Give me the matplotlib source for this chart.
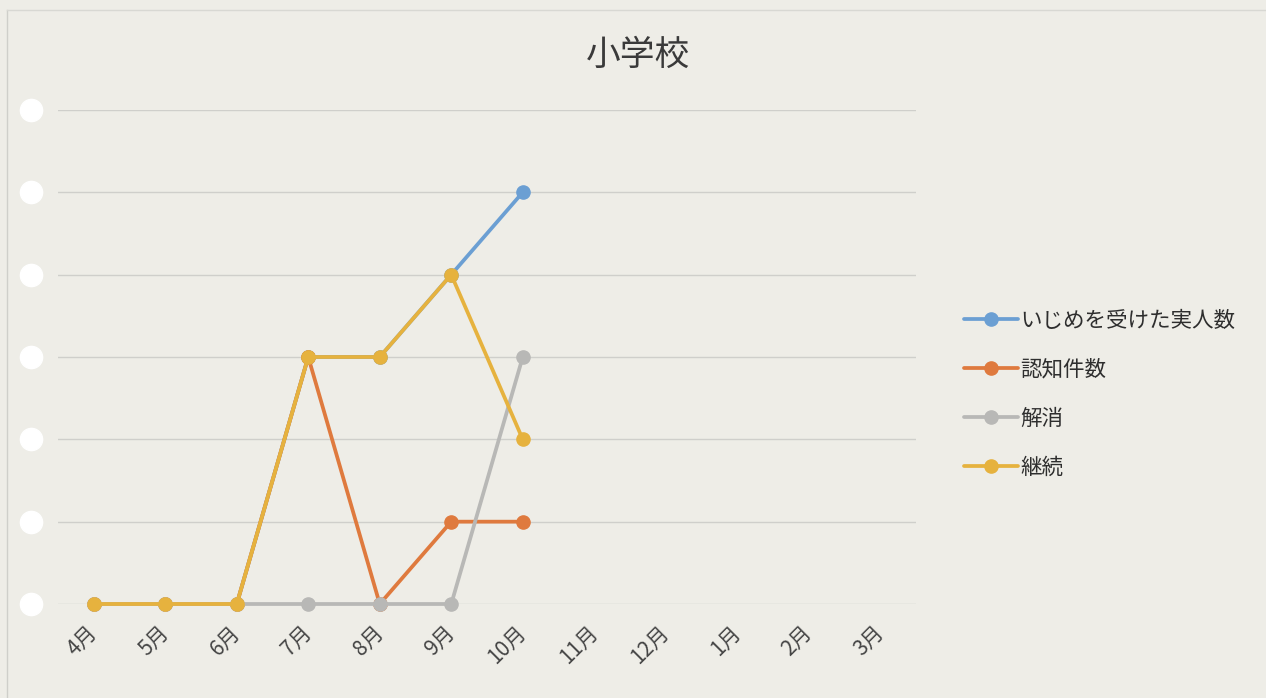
import matplotlib

matplotlib.use("Agg")
import matplotlib.pyplot as plt  # noqa: E402
from matplotlib.lines import Line2D  # noqa: E402
from matplotlib.transforms import blended_transform_factory  # noqa: E402

plt.rcParams["font.family"] = ["Noto Sans CJK JP", "DejaVu Sans"]

# data (counts per month, school year Apr-Mar)
months = ["4月", "5月", "6月", "7月", "8月", "9月", "10月", "11月", "12月", "1月", "2月", "3月"]
victims = [0, 0, 0, 3, 3, 4, 5]      # いじめを受けた実人数
recognized = [0, 0, 0, 3, 0, 1, 1]   # 認知件数
resolved = [0, 0, 0, 0, 0, 0, 3]     # 解消
ongoing = [0, 0, 0, 3, 3, 4, 2]      # 継続
series_names = ["いじめを受けた実人数", "認知件数", "解消", "継続"]
y_ticks = [0, 1, 2, 3, 4, 5, 6]

colors = ["#6b9fd3", "#df7a3e", "#b8b8b6", "#e6b23e"]
bg = "#eeede7"

fig = plt.figure(figsize=(12.66, 6.98), dpi=100, facecolor=bg)
ax = fig.add_axes([58 / 1266, 94 / 698, 858 / 1266, 494 / 698])
ax.set_facecolor(bg)

x = list(range(len(months)))
for vals, name, c in zip([victims, recognized, resolved, ongoing], series_names, colors):
    ax.plot(x[:len(vals)], vals, color=c, lw=2.7, marker="o", ms=9.5,
            label=name, clip_on=False, solid_capstyle="round")

ax.set_xlim(-0.5, len(months) - 0.5)
ax.set_ylim(y_ticks[0], y_ticks[-1])
ax.set_yticks(y_ticks)
ax.set_yticklabels([])
ax.set_xticks(x)
ax.set_xticklabels(months, rotation=45, ha="right", va="center",
                   rotation_mode="anchor", fontsize=15, color="#454545")
ax.tick_params(axis="both", length=0)
ax.tick_params(axis="x", pad=18)
ax.grid(axis="y", color="#cfcfcb", lw=1.0)
ax.set_axisbelow(True)
for s in ax.spines.values():
    s.set_visible(False)

# white blobs covering the value labels on the scan
tr = blended_transform_factory(ax.transAxes, ax.transData)
ax.plot([-0.032] * len(y_ticks), y_ticks, ls="none", marker="o", ms=16,
        color="white", transform=tr, clip_on=False)

fig.text(638 / 1266, 1 - 55 / 698, "小学校", ha="center", va="center",
         fontsize=25, color="#3a3a3a")

ax.legend(loc="center left", bbox_to_anchor=(945 / 1266, 1 - 394 / 698),
          bbox_transform=fig.transFigure, frameon=False, fontsize=15.5,
          handlelength=2.5, handletextpad=0.1, labelspacing=1.25,
          labelcolor="#2e2e2e")

# faint scan edges
fig.add_artist(Line2D([7 / 1266, 7 / 1266], [0, 1 - 10 / 698], color="#cfcfca", lw=1))
fig.add_artist(Line2D([7 / 1266, 1], [1 - 10 / 698, 1 - 10 / 698], color="#d8d8d3", lw=1))

fig.savefig("out.png", dpi=100, facecolor=bg)
